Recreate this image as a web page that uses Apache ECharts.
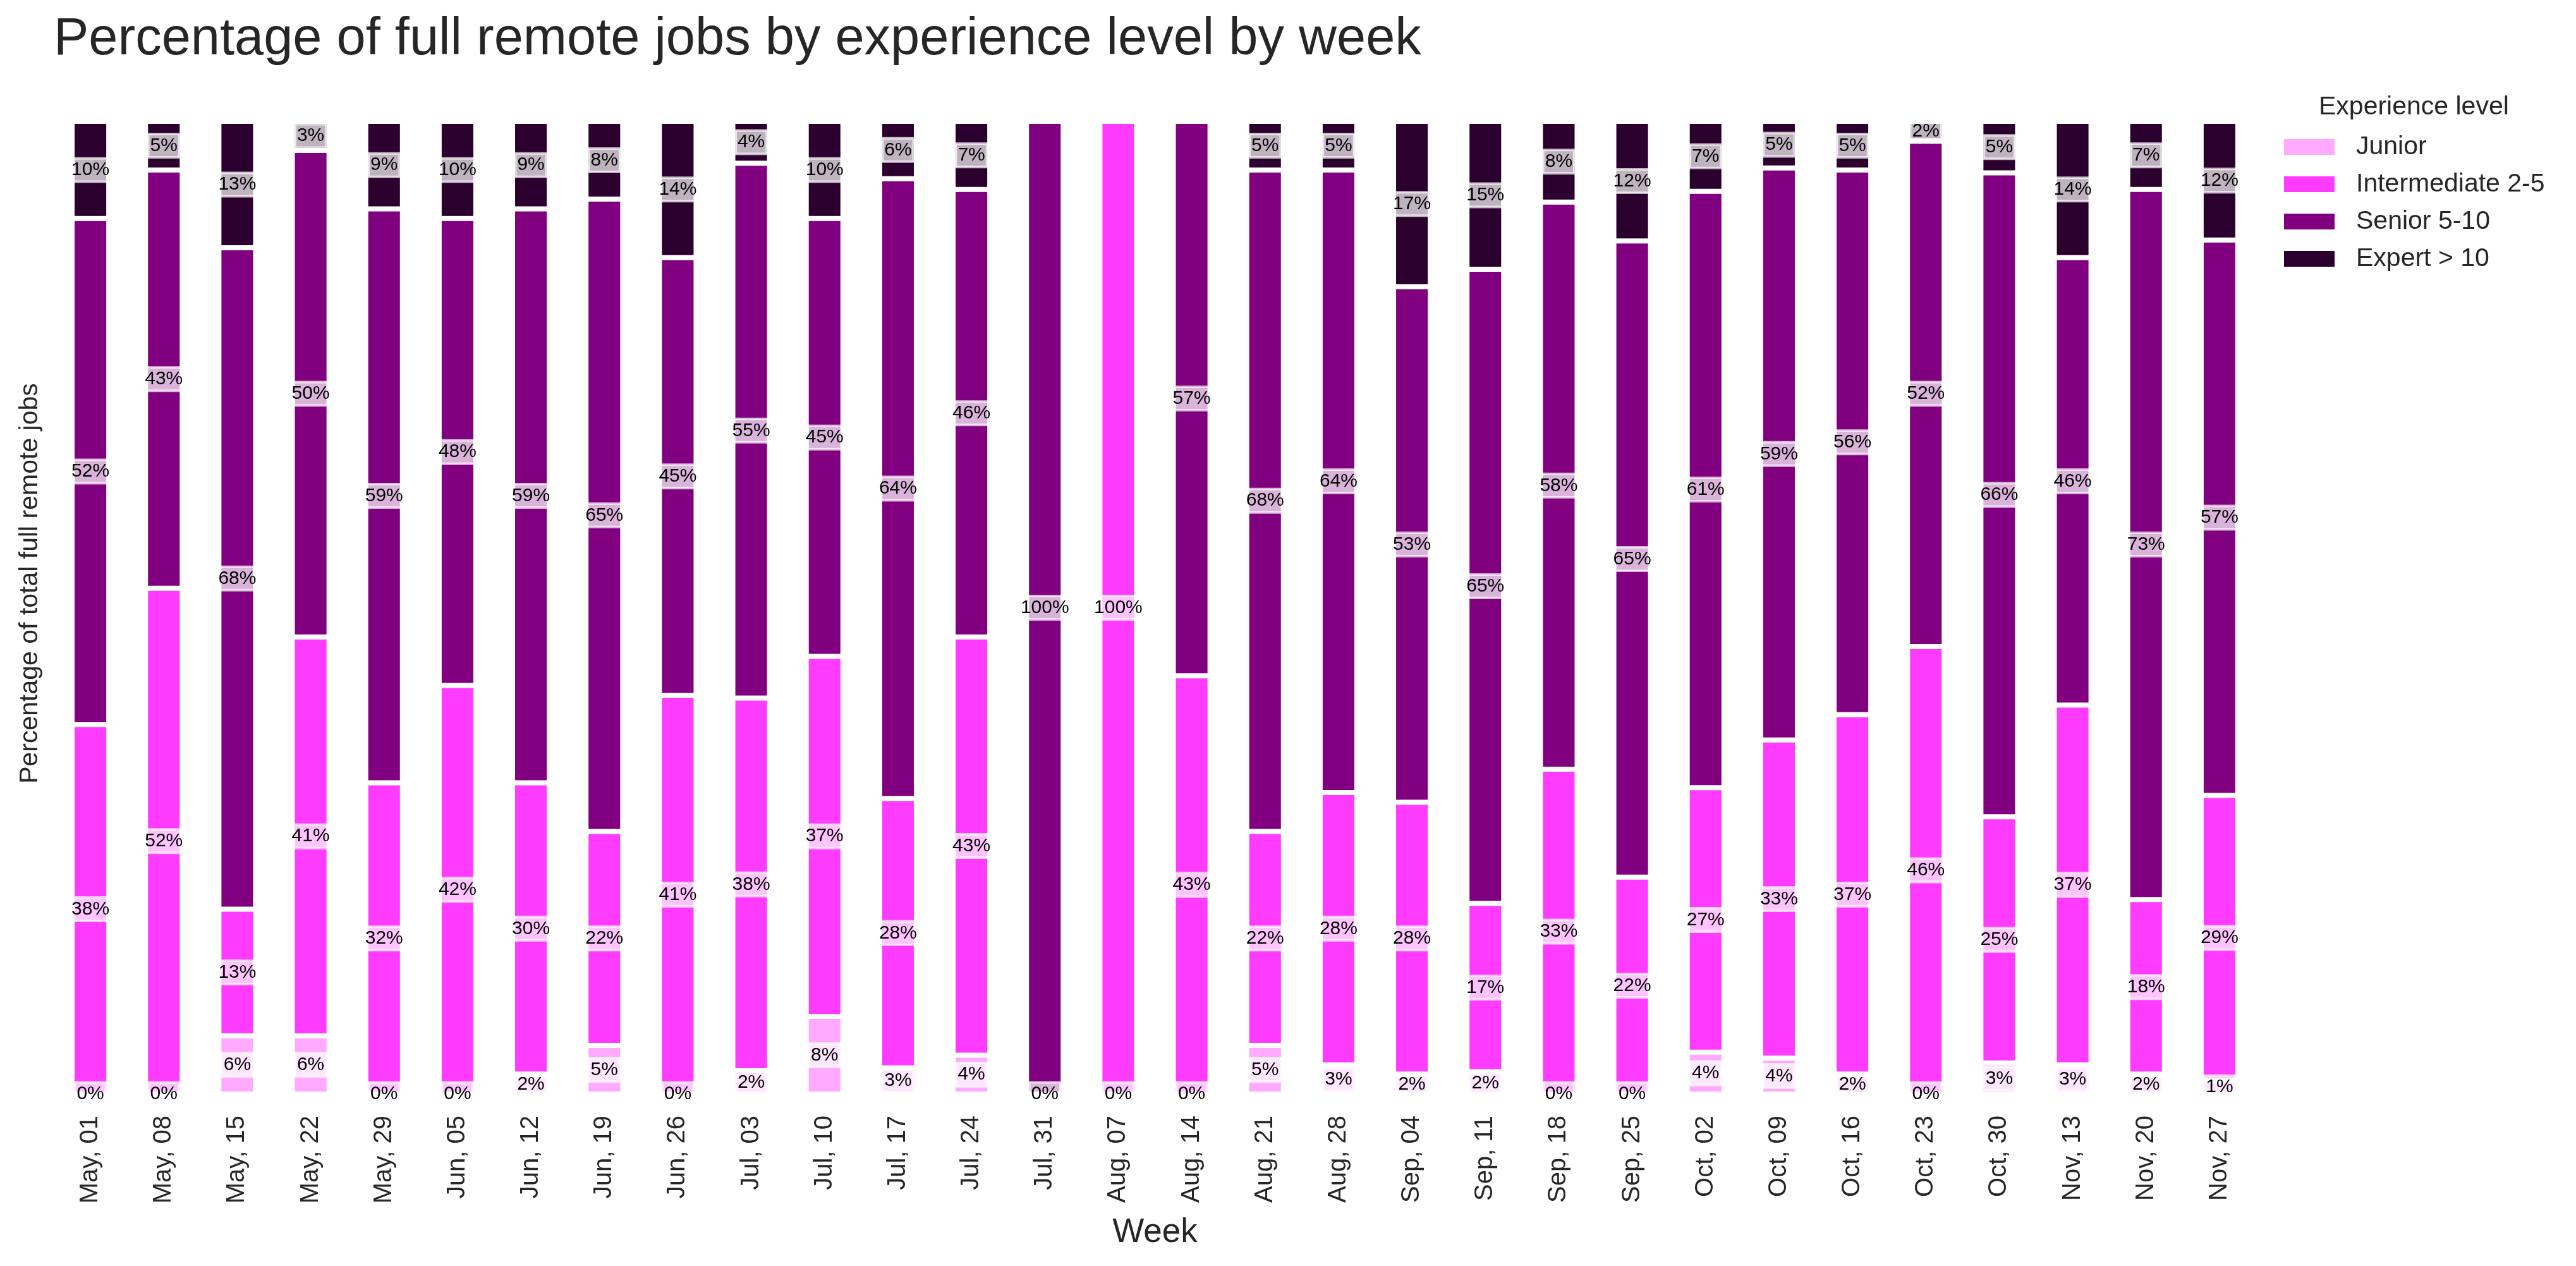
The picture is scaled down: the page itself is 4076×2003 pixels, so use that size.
<!DOCTYPE html>
<html>
<head>
<meta charset="utf-8">
<script src="https://cdn.jsdelivr.net/npm/echarts@6/dist/echarts.min.js"></script>
<style>
html,body{margin:0;padding:0;background:#fff;}
#chart{width:4076px;height:2003px;}
</style>
</head>
<body>
<div id="chart"></div>
<script>
const weeks = ['May, 01','May, 08','May, 15','May, 22','May, 29','Jun, 05','Jun, 12','Jun, 19','Jun, 26','Jul, 03','Jul, 10','Jul, 17','Jul, 24','Jul, 31','Aug, 07','Aug, 14','Aug, 21','Aug, 28','Sep, 04','Sep, 11','Sep, 18','Sep, 25','Oct, 02','Oct, 09','Oct, 16','Oct, 23','Oct, 30','Nov, 13','Nov, 20','Nov, 27'];
const junior       = [0, 0, 6, 6, 0, 0, 2, 5, 0, 2.4, 8, 2.7, 4, 0, 0, 0, 5, 3, 2, 2.3, 0, 0, 4.3, 3.7, 2, 0, 3.2, 3, 2, 1.4];
const intermediate = [38, 52, 13, 41, 32, 42, 30, 22, 41, 38.3, 37, 27.7, 43, null, 100, 43, 22, 28, 28, 17.3, 33.4, 22.3, 27.2, 32.7, 37, 46, 25.3, 37, 18, 29.3];
const senior       = [52, 43, 68, 50, 59, 48, 59, 65, 45, 55.0, 45, 63.7, 46, 100, null, 57, 68, 64, 53, 65.2, 58.3, 65.4, 61.3, 58.8, 56, 52, 66.2, 46, 73, 57.1];
const expert       = [10, 5, 13, 3, 9, 10, 9, 8, 14, 4.3, 10, 5.9, 7, null, null, null, 5, 5, 17, 15.2, 8.3, 12.3, 7.2, 4.8, 5, 2, 5.3, 14, 7, 12.2];
const seriesNames  = ['Junior','Intermediate 2-5','Senior 5-10','Expert > 10'];
const colors       = ['#ffaaff','#ff3bff','#800080','#2b002e'];

const FONT = 'Liberation Sans';
const TXT = '#262626';
const chart = echarts.init(document.getElementById('chart'), null, {renderer:'canvas'});

const labelCfg = {
  show: true,
  position: 'inside',
  formatter: p => Math.round(p.value) + '%',
  color: '#000',
  fontFamily: FONT,
  fontSize: 30,
  lineHeight: 33,
  backgroundColor: 'rgba(255,255,255,0.7)',
  borderColor: 'rgba(255,255,255,0.7)',
  borderWidth: 2,
  padding: [2, 3]
};

const dataSets = [junior, intermediate, senior, expert];
const series = dataSets.map((d, i) => ({
  name: seriesNames[i],
  type: 'bar',
  stack: 'total',
  barWidth: '50%',
  data: d,
  itemStyle: { color: colors[i], borderColor: '#ffffff', borderWidth: 4 },
  label: labelCfg,
  emphasis: { disabled: true }
}));

chart.setOption({
  animation: false,
  backgroundColor: '#ffffff',
  title: [
    { text: 'Percentage of full remote jobs by experience level by week', left: 80, top: 17,
      textStyle: { fontFamily: FONT, fontSize: 83, fontWeight: 'normal', color: TXT } },
    { text: 'Experience level', left: 3664, top: 144,
      textStyle: { fontFamily: FONT, fontSize: 41, fontWeight: 'normal', color: TXT } }
  ],
  legend: {
    orient: 'vertical', left: 3607, top: 207,
    itemWidth: 82, itemHeight: 27, itemGap: 18,
    icon: 'rect',
    data: seriesNames,
    textStyle: { fontFamily: FONT, fontSize: 41, color: TXT, padding: [0,0,0,28] }
  },
  grid: { left: 85, right: 506, top: 115, bottom: 272, containLabel: false },
  xAxis: {
    type: 'category', data: weeks,
    name: 'Week', nameLocation: 'middle', nameGap: 193,
    nameTextStyle: { fontFamily: FONT, fontSize: 53, color: TXT },
    axisLine: { show: false }, axisTick: { show: false },
    axisLabel: { rotate: 90, fontFamily: FONT, fontSize: 40, color: TXT, margin: 34, interval: 0 }
  },
  yAxis: {
    type: 'value', min: 0, max: 105,
    name: 'Percentage of total full remote jobs', nameLocation: 'middle', nameGap: 17,
    nameTextStyle: { fontFamily: FONT, fontSize: 41, color: TXT },
    axisLine: { show: false }, axisTick: { show: false },
    axisLabel: { show: false }, splitLine: { show: false }
  },
  series: series
});
</script>
</body>
</html>
